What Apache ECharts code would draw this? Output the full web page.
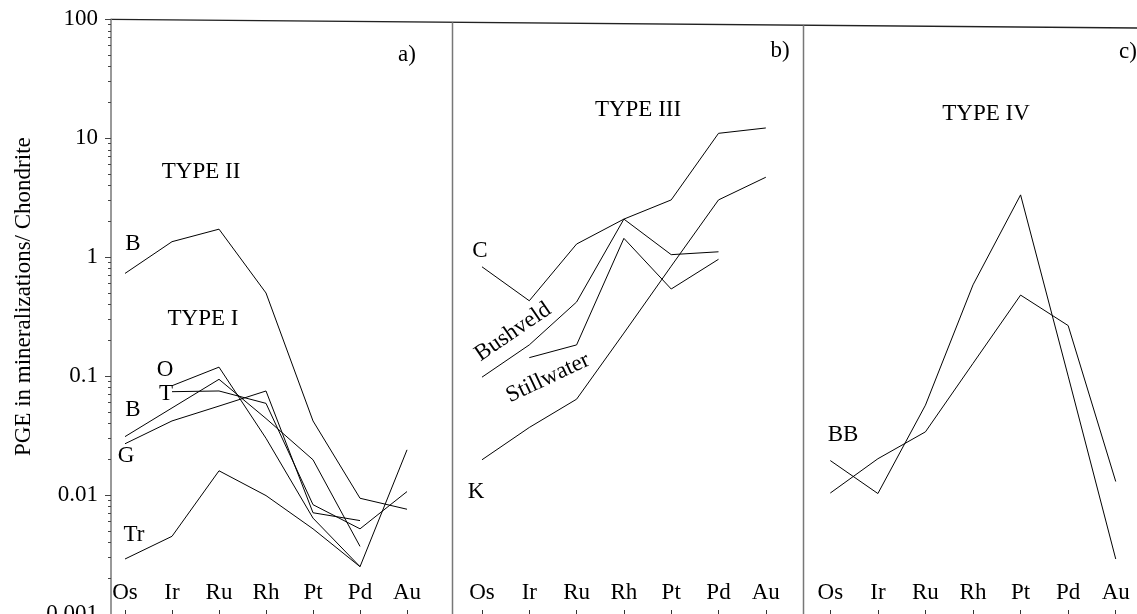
<!DOCTYPE html>
<html><head><meta charset="utf-8">
<script src="https://cdn.jsdelivr.net/npm/echarts@6/dist/echarts.min.js"></script>
<style>html,body{margin:0;padding:0;background:#fff}#c{width:1137px;height:614px}</style>
</head><body><div id="c"></div>
<script>
// ---- data ----
const elements = ['Os','Ir','Ru','Rh','Pt','Pd','Au'];
const yTickLabels = ['0.001','0.01','0.1','1','10','100'];
// panel a) TYPE II
const aTypeII_B = [0.73, 1.35, 1.72, 0.50, 0.042, 0.0094, 0.0076];
// panel a) TYPE I
const aO  = [null, 0.083, 0.119, 0.030, 0.0064, 0.0025, 0.024];
const aT  = [null, 0.074, 0.075, 0.059, 0.0083, 0.0052, 0.0107];
const aB  = [0.031, 0.054, 0.094, 0.044, 0.0198, 0.0037, null];
const aG  = [0.027, 0.042, 0.056, 0.075, 0.0071, 0.0061, null];
const aTr = [0.0029, 0.0045, 0.016, 0.0099, 0.0052, 0.0025, null];
// panel b) TYPE III
const bC          = [0.83, 0.43, 1.29, 2.09, 3.03, 11.0, 12.2];
const bBushveld   = [0.098, 0.183, 0.42, 2.09, 1.05, 1.11, null];
const bStillwater = [null, 0.143, 0.183, 1.44, 0.54, 0.96, null];
const bK          = [0.0198, 0.037, 0.064, 0.23, 0.84, 3.03, 4.7];
// panel c) TYPE IV
const cBB1 = [0.0195, 0.0103, 0.057, 0.585, 3.34, 0.10, 0.0029];
const cBB2 = [0.0104, 0.0202, 0.034, 0.128, 0.48, 0.266, 0.013];

const FONT = '"Liberation Serif","Times New Roman",serif';
const FS = 23;
const idx = elements.map((_, i) => i);
const pairs = arr => arr.map((v, i) => v == null ? null : [i, v]).filter(Boolean);

function xAxis(g, min, max) {
  return {
    type: 'value', gridIndex: g, min: min, max: max, position: 'bottom',
    splitLine: {show: false}, axisLine: {show: false, onZero: false},
    axisTick: {show: true, inside: true, length: 4, customValues: idx, lineStyle: {color: '#333', width: 1}},
    axisLabel: {show: true, inside: true, customValues: idx, margin: 10,
      formatter: v => elements[Math.round(v)], fontFamily: FONT, fontSize: FS, color: '#000'}
  };
}
function yAxis(g, main) {
  const ax = {
    type: 'log', logBase: 10, gridIndex: g, min: 0.001, max: 100, position: 'left',
    splitLine: {show: false},
    axisLine: {show: main, onZero: false, lineStyle: {color: '#777', width: 1.5}},
    axisTick: {show: main, length: 6, lineStyle: {color: '#444'}},
    minorTick: {show: main, splitNumber: 9, length: 3, lineStyle: {color: '#444'}},
    axisLabel: {show: main, margin: 13, fontFamily: FONT, fontSize: FS, color: '#000',
      formatter: v => yTickLabels[Math.round(Math.log10(v)) + 3]}
  };
  if (main) {
    ax.name = 'PGE in mineralizations/ Chondrite';
    ax.nameLocation = 'middle';
    ax.nameGap = 76;
    ax.nameTextStyle = {fontFamily: FONT, fontSize: FS, color: '#000', padding: [0, 0, 0, 40]};
  }
  return ax;
}
function line(g, arr) {
  return {type: 'line', xAxisIndex: g, yAxisIndex: g, data: pairs(arr), showSymbol: false,
    symbol: 'none', lineStyle: {color: '#000', width: 1}, silent: true, animation: false};
}
function txt(text, x, y, rot) {
  return {type: 'text', x: x, y: y, rotation: rot || 0,
    style: {text: text, font: FS + 'px ' + FONT, fill: '#000', align: 'center', verticalAlign: 'middle'}};
}

const chart = echarts.init(document.getElementById('c'), null, {renderer: 'canvas'});
chart.setOption({
  animation: false,
  backgroundColor: '#fff',
  grid: [
    {left: 111, top: 19.3, width: 341, bottom: 0, outerBoundsMode: 'none', containLabel: false},
    {left: 452, top: 19.3, width: 351, bottom: 0, outerBoundsMode: 'none', containLabel: false},
    {left: 803, top: 19.3, width: 334, bottom: 0, outerBoundsMode: 'none', containLabel: false}
  ],
  xAxis: [xAxis(0, -0.298, 6.957), xAxis(1, -0.634, 6.786), xAxis(2, -0.574, 6.447)],
  yAxis: [yAxis(0, true), yAxis(1, false), yAxis(2, false)],
  series: [
    line(0, aTypeII_B), line(0, aO), line(0, aT), line(0, aB), line(0, aG), line(0, aTr),
    line(1, bC), line(1, bBushveld), line(1, bStillwater), line(1, bK),
    line(2, cBB1), line(2, cBB2)
  ],
  graphic: [
    {type: 'line', shape: {x1: 111, y1: 19.3, x2: 1137, y2: 28}, style: {stroke: '#222', lineWidth: 1.3}},
    {type: 'line', shape: {x1: 452.5, y1: 22.2, x2: 452.5, y2: 614}, style: {stroke: '#777', lineWidth: 1.5}},
    {type: 'line', shape: {x1: 803.5, y1: 25.2, x2: 803.5, y2: 614}, style: {stroke: '#777', lineWidth: 1.5}},
    txt('a)', 407, 55), txt('b)', 780, 51), txt('c)', 1128, 52),
    txt('TYPE II', 201, 172), txt('TYPE I', 203, 319),
    txt('B', 133, 244), txt('O', 165, 370), txt('T', 166, 394), txt('B', 133, 410),
    txt('G', 126, 456), txt('Tr', 134, 535),
    txt('TYPE III', 638, 110), txt('C', 480, 251),
    txt('Bushveld', 513, 332, 0.6), txt('Stillwater', 548, 378, 0.44), txt('K', 476, 492),
    txt('TYPE IV', 986, 114), txt('BB', 843, 435)
  ]
});
</script></body></html>
